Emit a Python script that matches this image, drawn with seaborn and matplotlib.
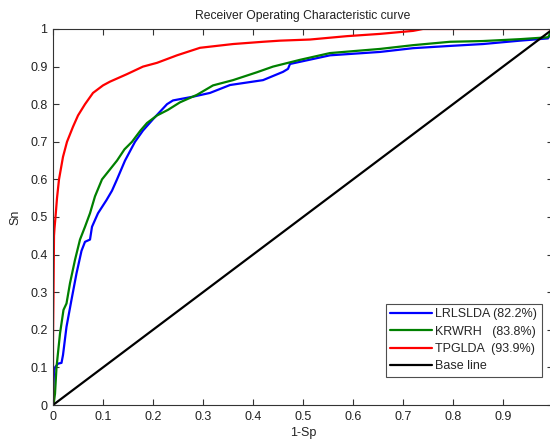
import matplotlib
matplotlib.use("Agg")
import matplotlib.pyplot as plt
import seaborn as sns
import pandas as pd

# ---- data ----
lrlslda_fpr = [0, 0.001, 0.002, 0.004, 0.01, 0.017, 0.02, 0.027, 0.037, 0.047, 0.057, 0.064, 0.074, 0.078,
               0.09, 0.107, 0.118, 0.128, 0.144, 0.164, 0.18, 0.2, 0.228, 0.24, 0.28, 0.314, 0.354, 0.42,
               0.46, 0.47, 0.474, 0.554, 0.654, 0.72, 0.794, 0.86, 0.934, 0.99, 1.0]
lrlslda_tpr = [0, 0.05, 0.09, 0.1, 0.11, 0.112, 0.133, 0.208, 0.28, 0.35, 0.41, 0.434, 0.44, 0.474,
               0.51, 0.545, 0.57, 0.6, 0.65, 0.7, 0.73, 0.76, 0.8, 0.81, 0.82, 0.83, 0.851, 0.864,
               0.886, 0.894, 0.907, 0.93, 0.939, 0.949, 0.955, 0.96, 0.969, 0.975, 1.0]

krwrh_fpr = [0, 0.002, 0.004, 0.007, 0.014, 0.021, 0.027, 0.034, 0.044, 0.054, 0.064, 0.074, 0.084, 0.098,
             0.113, 0.128, 0.143, 0.158, 0.175, 0.188, 0.208, 0.23, 0.254, 0.288, 0.32, 0.36, 0.408, 0.44,
             0.494, 0.554, 0.654, 0.72, 0.794, 0.86, 0.934, 0.99, 1.0]
krwrh_tpr = [0, 0.01, 0.03, 0.1, 0.19, 0.253, 0.27, 0.324, 0.386, 0.44, 0.474, 0.51, 0.555, 0.6,
             0.625, 0.65, 0.68, 0.7, 0.73, 0.75, 0.77, 0.785, 0.805, 0.825, 0.85, 0.864, 0.885, 0.9,
             0.918, 0.936, 0.947, 0.957, 0.966, 0.968, 0.973, 0.978, 1.0]

tpglda_fpr = [0, 0, 0.001, 0.002, 0.003, 0.005, 0.008, 0.012, 0.02, 0.028, 0.04, 0.05, 0.064, 0.08, 0.1,
              0.114, 0.148, 0.18, 0.208, 0.248, 0.294, 0.36, 0.42, 0.454, 0.514, 0.588, 0.654, 0.72, 0.74, 1.0]
tpglda_tpr = [0, 0.17, 0.3, 0.45, 0.47, 0.5, 0.55, 0.6, 0.66, 0.7, 0.74, 0.77, 0.8, 0.83, 0.85,
              0.86, 0.88, 0.9, 0.91, 0.93, 0.95, 0.96, 0.966, 0.969, 0.972, 0.981, 0.987, 0.995, 1.0, 1.0]

base_fpr = [0, 1]
base_tpr = [0, 1]

labels = ["LRLSLDA (82.2%)", "KRWRH   (83.8%)", "TPGLDA  (93.9%)", "Base line"]
colors = ["#0000ff", "#008000", "#ff0000", "#000000"]
x_ticks = [0, 0.1, 0.2, 0.3, 0.4, 0.5, 0.6, 0.7, 0.8, 0.9, 1.0]
x_tick_labels = ["0", "0.1", "0.2", "0.3", "0.4", "0.5", "0.6", "0.7", "0.8", "0.9", ""]
y_ticks = [0, 0.1, 0.2, 0.3, 0.4, 0.5, 0.6, 0.7, 0.8, 0.9, 1.0]
y_tick_labels = ["0", "0.1", "0.2", "0.3", "0.4", "0.5", "0.6", "0.7", "0.8", "0.9", "1"]

series = [(lrlslda_fpr, lrlslda_tpr), (krwrh_fpr, krwrh_tpr), (tpglda_fpr, tpglda_tpr), (base_fpr, base_tpr)]

sns.set_style("white")
plt.rcParams["font.family"] = ["Liberation Sans", "DejaVu Sans"]
plt.rcParams["font.size"] = 9

fig = plt.figure(figsize=(5.5, 4.43), dpi=100)
ax = fig.add_axes([53 / 550, 38 / 443, 500 / 550, 376 / 443])

for (xs, ys), lab, col in zip(series, labels, colors):
    df = pd.DataFrame({"fpr": xs, "tpr": ys})
    sns.lineplot(data=df, x="fpr", y="tpr", sort=False, estimator=None, color=col,
                 linewidth=1.6, label=lab, ax=ax)

ax.set_xlim(0, 1)
ax.set_ylim(0, 1)
ax.set_xticks(x_ticks)
ax.set_xticklabels(x_tick_labels)
ax.set_yticks(y_ticks)
ax.set_yticklabels(y_tick_labels)
ax.tick_params(direction="in", length=4, width=0.8, top=True, right=True, bottom=True, left=True,
               colors="#333333", labelcolor="#222222", labelsize=9, pad=4)
for sp in ax.spines.values():
    sp.set_visible(True)
    sp.set_color("#333333")
    sp.set_linewidth(0.8)

ax.set_xlabel("1-Sp", fontsize=9, color="#222222", labelpad=3)
ax.set_ylabel("Sn", fontsize=9, color="#222222", labelpad=6)
ax.set_title("Receiver Operating Characteristic curve", fontsize=8.7, color="#222222", pad=7)

leg = ax.legend(loc="lower right", bbox_to_anchor=(0.978, 0.0745), borderaxespad=0,
                fancybox=False, frameon=True, fontsize=9, handlelength=3.3, handletextpad=0.3,
                labelspacing=0.42, borderpad=0.38)
leg.get_frame().set_edgecolor("#222222")
leg.get_frame().set_linewidth(0.8)

fig.savefig("out.png", dpi=100)
